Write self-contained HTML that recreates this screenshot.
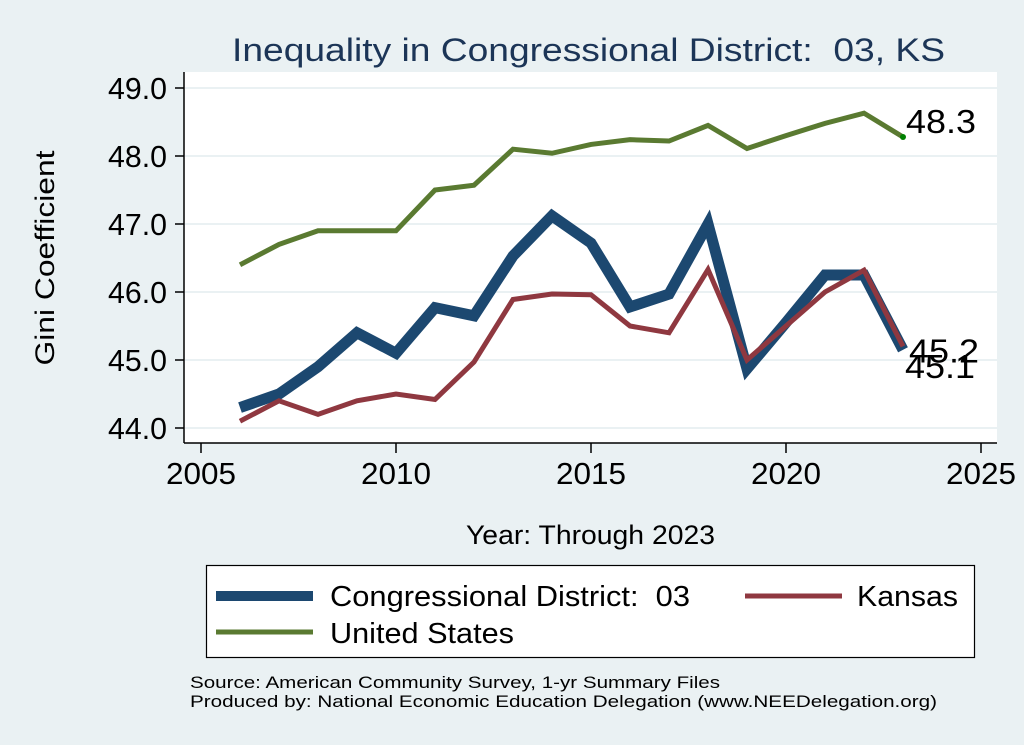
<!DOCTYPE html>
<html><head><meta charset="utf-8"><style>
body{margin:0;background:#eaf1f3;}
svg{display:block;font-family:"Liberation Sans",Arial,sans-serif;}
text{white-space:pre;}
</style></head><body>
<svg width="1024" height="745" viewBox="0 0 1024 745">
<rect x="0" y="0" width="1024" height="745" fill="#eaf1f3"/>
<text x="232" y="61" font-size="32" fill="#1c3557" textLength="713" lengthAdjust="spacingAndGlyphs">Inequality in Congressional District:  03, KS</text>
<rect x="184" y="72" width="813" height="371" fill="#ffffff"/>
<g id="grid"></g>
<line x1="184" y1="72" x2="184" y2="443" stroke="#000" stroke-width="1.5"/>
<line x1="184" y1="443" x2="997" y2="443" stroke="#000" stroke-width="1.5"/>
<g id="yticks"></g>
<g id="xticks"></g>
<text transform="translate(54,258) rotate(-90)" font-size="27" text-anchor="middle" textLength="215" lengthAdjust="spacingAndGlyphs" fill="#000">Gini Coefficient</text>
<text x="466" y="544" font-size="27" textLength="249" lengthAdjust="spacingAndGlyphs" fill="#000">Year: Through 2023</text>
<g id="series"></g>
<g id="labels"></g>
<g>
<rect x="206.5" y="565.5" width="768" height="92" fill="#fff" stroke="#000" stroke-width="1.2"/>
<line x1="216" y1="596" x2="313" y2="596" stroke="#1c4870" stroke-width="10"/>
<text x="330" y="606" font-size="29" textLength="360" lengthAdjust="spacingAndGlyphs">Congressional District:  03</text>
<line x1="745" y1="596" x2="842" y2="596" stroke="#8f3840" stroke-width="5"/>
<text x="857" y="606" font-size="29" textLength="101" lengthAdjust="spacingAndGlyphs">Kansas</text>
<line x1="216" y1="632" x2="313" y2="632" stroke="#5a7a31" stroke-width="5"/>
<text x="330" y="643" font-size="29" textLength="184" lengthAdjust="spacingAndGlyphs">United States</text>
</g>
<text x="190" y="688" font-size="17" textLength="530" lengthAdjust="spacingAndGlyphs">Source: American Community Survey, 1-yr Summary Files</text>
<text x="190" y="707" font-size="17" textLength="747" lengthAdjust="spacingAndGlyphs">Produced by: National Economic Education Delegation (www.NEEDelegation.org)</text>
</svg>
<script>
const years=[2006,2007,2008,2009,2010,2011,2012,2013,2014,2015,2016,2017,2018,2019,2020,2021,2022,2023];
const usVals=[46.4,46.7,46.9,46.9,46.9,47.5,47.57,48.1,48.04,48.17,48.24,48.22,48.45,48.11,48.3,48.48,48.63,48.28];
const cdVals=[44.3,44.5,44.9,45.4,45.1,45.77,45.65,46.53,47.12,46.72,45.78,45.97,47.0,44.87,45.55,46.25,46.25,45.15];
const ksVals=[44.1,44.4,44.2,44.4,44.5,44.42,44.97,45.89,45.97,45.96,45.5,45.4,46.33,45.0,45.5,46.0,46.32,45.2];
const yTicks=[44,45,46,47,48,49];
const xTicks=[2005,2010,2015,2020,2025];
const NS='http://www.w3.org/2000/svg';
function X(v){return 201+(v-2005)*39;}
function Y(v){return 428-(v-44)*68;}
function mk(tag,attrs,parent,txt){const e=document.createElementNS(NS,tag);for(const k in attrs)e.setAttribute(k,attrs[k]);if(txt!==undefined)e.textContent=txt;parent.appendChild(e);return e;}
const grid=document.getElementById('grid'),yt=document.getElementById('yticks'),xt=document.getElementById('xticks');
yTicks.forEach(t=>{
  const g=mk('line',{x1:185,x2:997,y1:Y(t),y2:Y(t),stroke:'#eaf1f3','stroke-width':2},grid);
  
  
  const tk=mk('line',{x1:175,x2:184,y1:Y(t),y2:Y(t),stroke:'#000','stroke-width':1.5},yt);
  
  
  const l=mk('text',{x:167,y:Y(t)+11,'font-size':31,'text-anchor':'end',textLength:59,lengthAdjust:'spacingAndGlyphs'},yt,t.toFixed(1));
  
  
});
xTicks.forEach(t=>{
  const tk=mk('line',{x1:X(t),x2:X(t),y1:443,y2:453,stroke:'#000','stroke-width':1.5},xt);
  
  
  const l=mk('text',{x:X(t),y:484,'font-size':31,'text-anchor':'middle',textLength:70,lengthAdjust:'spacingAndGlyphs'},xt,String(t));
  
  
});
const S=document.getElementById('series');
function line(vals,color,w,name){
  const p=mk('polyline',{points:years.map((y,i)=>X(y)+','+Y(vals[i])).join(' '),fill:'none',stroke:color,'stroke-width':w,'stroke-linejoin':'miter'},S);
  
  
}
line(usVals,'#5a7a31',5,'line-united-states');
line(cdVals,'#1c4870',11,'line-congressional-district');
line(ksVals,'#8f3840',5,'line-kansas');
const n=years.length-1;
const dot=mk('circle',{cx:X(years[n]),cy:Y(usVals[n]),r:3,fill:'#008000'},S);


const L=document.getElementById('labels');
const a=mk('text',{x:X(years[n])+3,y:Y(usVals[n])-4,'font-size':33,textLength:70,lengthAdjust:'spacingAndGlyphs'},L,usVals[n].toFixed(1));


const b=mk('text',{x:X(years[n])+6,y:Y(ksVals[n])+16,'font-size':33,textLength:70,lengthAdjust:'spacingAndGlyphs'},L,ksVals[n].toFixed(1));


const c=mk('text',{x:X(years[n])+2,y:Y(cdVals[n])+28,'font-size':33,textLength:70,lengthAdjust:'spacingAndGlyphs'},L,cdVals[n].toFixed(1));


</script>
</body></html>
